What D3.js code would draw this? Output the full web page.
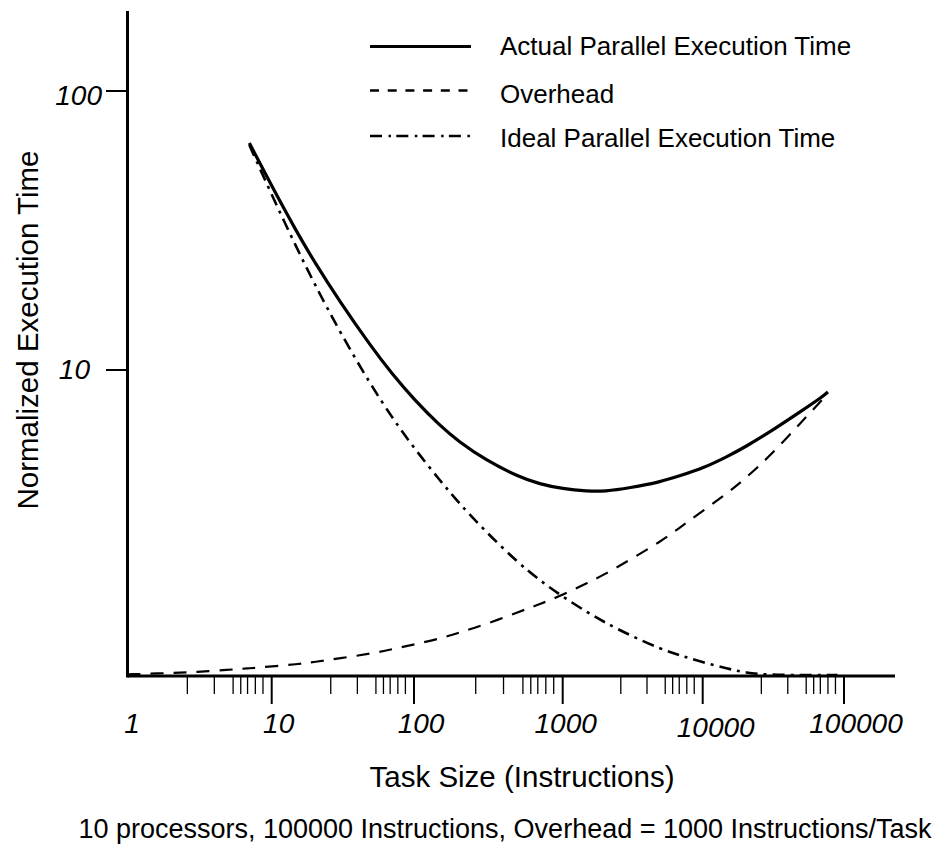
<!DOCTYPE html>
<html>
<head>
<meta charset="utf-8">
<script src="https://cdn.jsdelivr.net/npm/d3@7"></script>
<style>
  html, body { margin: 0; padding: 0; background: #fff; }
  svg { display: block; font-family: "Liberation Sans", Arial, Helvetica, sans-serif; }
</style>
</head>
<body>
<svg id="chart" width="946" height="850"></svg>
<script>
// ---------------- data ----------------
const xTickValues = [1, 10, 100, 1000, 10000, 100000];
const xTickLabels = ["1", "10", "100", "1000", "10000", "100000"];
const minorMultipliers = [2.6, 4, 5.4, 6.1, 6.8, 7.7, 8.7];
const yTickValues = [10, 100];
const yTickLabels = ["10", "100"];

const actualX = [7, 10, 15, 20, 30, 50, 70, 100, 150, 200, 300, 500, 700, 1000, 1500, 2000, 3000, 5000, 7000, 10000, 15000, 20000, 30000, 50000, 70000, 77000];
const actualY = [65.1, 45.61, 31.23, 24.36, 17.62, 12.12, 9.70, 7.84, 6.30, 5.54, 4.77, 4.15, 3.90, 3.75, 3.68, 3.67, 3.78, 3.97, 4.19, 4.44, 4.90, 5.30, 6.00, 7.13, 8.00, 8.34];

const overheadX = [1, 2, 3, 5, 7, 10, 15, 20, 30, 50, 70, 100, 150, 200, 300, 500, 700, 1000, 1500, 2000, 3000, 5000, 7000, 10000, 15000, 20000, 30000, 50000, 70000, 77000];
const overheadY = [0.811, 0.820, 0.827, 0.842, 0.853, 0.866, 0.882, 0.898, 0.926, 0.963, 0.998, 1.038, 1.090, 1.144, 1.223, 1.355, 1.447, 1.562, 1.724, 1.852, 2.084, 2.426, 2.742, 3.124, 3.623, 4.085, 4.917, 6.51, 7.81, 8.27];

const idealX = [7, 10, 15, 20, 30, 50, 70, 100, 150, 200, 300, 500, 700, 1000, 1500, 2000, 3000, 5000, 7000, 10000, 15000, 20000, 30000, 50000, 70000, 90000];
const idealY = [64.0, 42.38, 27.37, 20.33, 13.74, 8.80, 6.77, 5.25, 4.01, 3.34, 2.65, 2.04, 1.763, 1.540, 1.353, 1.245, 1.122, 1.00, 0.947, 0.896, 0.851, 0.822, 0.807, 0.807, 0.807, 0.807];

const seriesNames = ["Actual Parallel Execution Time", "Overhead", "Ideal Parallel Execution Time"];
const xTitle = "Task Size (Instructions)";
const yTitle = "Normalized Execution Time";
const footnote = "10 processors, 100000 Instructions, Overhead = 1000 Instructions/Task";

// ---------------- layout ----------------
const svg = d3.select("#chart");
const FONT = '"Liberation Sans", Arial, Helvetica, sans-serif';

const x = d3.scaleLog()
  .domain(xTickValues)
  .range([127.5, 271.7, 414, 562.7, 702.7, 844]);
const y = d3.scaleLog()
  .domain([10, 100])
  .range([370, 91]);

const axisLeft = 127.5, axisRight = 895, axisBottom = 676, axisTop = 11;

// curves
const line = d3.line().x(d => x(d[0])).y(d => y(d[1])).curve(d3.curveBasis);
const zipped = (xs, ys) => xs.map((v, i) => [v, ys[i]]);

svg.append("path").datum(zipped(overheadX, overheadY))
  .attr("d", line).attr("fill", "none").attr("stroke", "#000")
  .attr("stroke-width", 2.2).attr("stroke-dasharray", "13,10");
svg.append("path").datum(zipped(idealX, idealY))
  .attr("d", line).attr("fill", "none").attr("stroke", "#000")
  .attr("stroke-width", 2.6).attr("stroke-dasharray", "12,6,3,6");
svg.append("path").datum(zipped(actualX, actualY))
  .attr("d", line).attr("fill", "none").attr("stroke", "#000")
  .attr("stroke-width", 3.2);

// axes lines
svg.append("line").attr("x1", axisLeft).attr("x2", axisRight)
  .attr("y1", axisBottom).attr("y2", axisBottom)
  .attr("stroke", "#000").attr("stroke-width", 3);
svg.append("line").attr("x1", axisLeft).attr("x2", axisLeft)
  .attr("y1", axisTop).attr("y2", axisBottom + 1.5)
  .attr("stroke", "#000").attr("stroke-width", 3);

// x major ticks (not at 1)
svg.selectAll(".xmaj").data(xTickValues.slice(1)).enter().append("line")
  .attr("x1", d => x(d)).attr("x2", d => x(d))
  .attr("y1", axisBottom).attr("y2", 704)
  .attr("stroke", "#000").attr("stroke-width", 2);

// x minor ticks
const minorVals = [];
xTickValues.slice(0, -1).forEach(dec => minorMultipliers.forEach(m => minorVals.push(dec * m)));
svg.selectAll(".xmin").data(minorVals).enter().append("line")
  .attr("x1", d => x(d)).attr("x2", d => x(d))
  .attr("y1", axisBottom).attr("y2", 694)
  .attr("stroke", "#000").attr("stroke-width", 1.3);

// x tick labels
const xLabelNudge = [4.5, 7, 7, 3, 13, 12];
const xLabelBase = [733, 733, 733, 733, 737, 733];
svg.selectAll(".xlab").data(xTickValues).enter().append("text")
  .attr("x", (d, i) => x(d) + xLabelNudge[i])
  .attr("y", (d, i) => xLabelBase[i])
  .attr("text-anchor", "middle")
  .attr("font-family", FONT).attr("font-size", 28).attr("font-style", "italic")
  .text((d, i) => xTickLabels[i]);

// y ticks
const yLabelEnd = [90, 102];
const yLabelDy = [9, 14];
svg.selectAll(".ytick").data(yTickValues).enter().append("line")
  .attr("x1", 106).attr("x2", axisLeft)
  .attr("y1", d => y(d)).attr("y2", d => y(d))
  .attr("stroke", "#000").attr("stroke-width", 2);
svg.selectAll(".ylab").data(yTickValues).enter().append("text")
  .attr("x", (d, i) => yLabelEnd[i])
  .attr("y", (d, i) => y(d) + yLabelDy[i])
  .attr("text-anchor", "end")
  .attr("font-family", FONT).attr("font-size", 28).attr("font-style", "italic")
  .text((d, i) => yTickLabels[i]);

// titles
svg.append("text").attr("x", 522).attr("y", 787).attr("text-anchor", "middle")
  .attr("font-family", FONT).attr("font-size", 29.5).text(xTitle);
svg.append("text").attr("transform", "translate(38,330) rotate(-90)")
  .attr("text-anchor", "middle")
  .attr("font-family", FONT).attr("font-size", 29.5).text(yTitle);
svg.append("text").attr("x", 505).attr("y", 838).attr("text-anchor", "middle")
  .attr("font-family", FONT).attr("font-size", 27).text(footnote);

// legend
const legendRows = [
  { name: seriesNames[0], y: 46.5, ty: 55, dash: null, w: 3.2 },
  { name: seriesNames[1], y: 90.5, ty: 103, dash: "9,8.7", w: 2.6 },
  { name: seriesNames[2], y: 136, ty: 147, dash: "12,6.5,2.5,5.3", w: 2.6 }
];
const lg = svg.append("g");
legendRows.forEach(r => {
  lg.append("line").attr("x1", 370).attr("x2", 471).attr("y1", r.y).attr("y2", r.y)
    .attr("stroke", "#000").attr("stroke-width", r.w)
    .attr("stroke-dasharray", r.dash);
  lg.append("text").attr("x", 500).attr("y", r.ty)
    .attr("font-family", FONT).attr("font-size", 26).text(r.name);
});
</script>
</body>
</html>
